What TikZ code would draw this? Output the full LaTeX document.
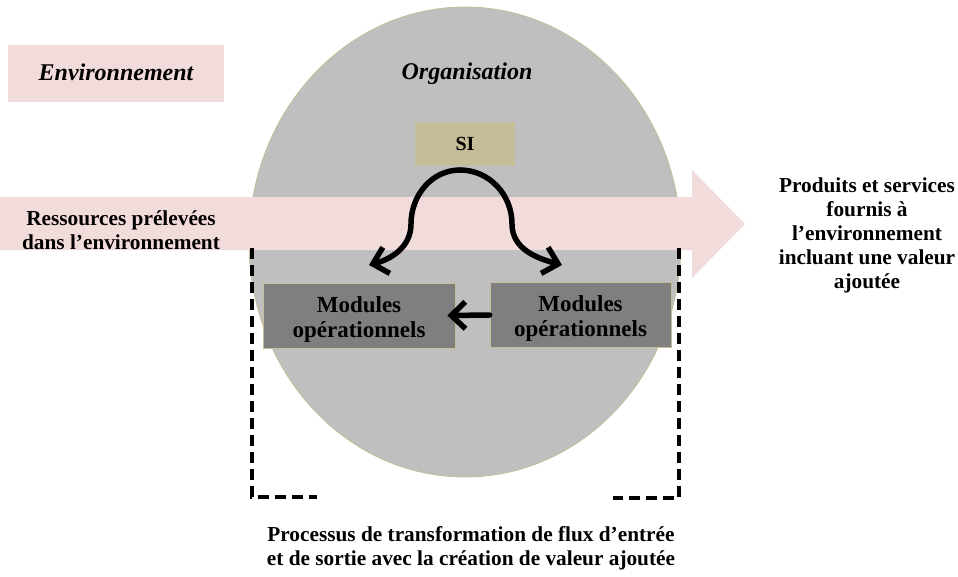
\documentclass[tikz,border=0pt]{standalone}
\usepackage{fontspec}
\setmainfont{Liberation Serif}
\usepackage{xcolor}
\usetikzlibrary{arrows.meta}

\definecolor{pinkflow}{HTML}{F2DCDB}
\definecolor{orggray}{HTML}{BFBFBF}
\definecolor{tan}{HTML}{C4BD97}
\definecolor{modgray}{HTML}{7F7F7F}

\begin{document}
\begin{tikzpicture}[x=1pt, y=-1pt,
    lbl/.style={align=center, font=\fontsize{21.3}{24}\selectfont\bfseries},
    ttl/.style={font=\fontsize{24}{28}\selectfont\bfseries\itshape},
    modbox/.style={draw=tan, fill=modgray, line width=0.8pt, align=center,
        minimum height=65pt, inner sep=0pt, font=\fontsize{23}{25}\selectfont\bfseries},
    flow/.style={line width=5.5pt, line cap=round, -{Straight Barb[length=14pt, width=27pt]}},
    bracket/.style={line width=3.6pt, dash pattern=on 11pt off 6pt}]
    \useasboundingbox (0,0) rectangle (958,576);

    % organisation
    \draw[tan, fill=orggray, line width=0.8pt] (465,242) ellipse [x radius=216, y radius=235];

    % flow of the environment
    \fill[pinkflow] (0,197) -- (692,197) -- (692,170) -- (745,224) -- (692,278)
        -- (692,250) -- (0,250) -- cycle;
    \fill[pinkflow] (8,45) rectangle (224,102);

    \node[ttl] at (116,72) (env) {Environnement};
    \node[ttl] at (467,74) (org) {Organisation};

    \node[fill=tan, minimum width=100pt, minimum height=44pt, inner sep=0pt,
        font=\fontsize{20}{24}\selectfont\bfseries] at (465,144) (si) {SI};

    \node[modbox, minimum width=192pt] at (359,315.5) (modL)
        {\raisebox{-4pt}[\height][\depth]{\begin{tabular}{@{}c@{}}Modules\\opérationnels\end{tabular}}};
    \node[modbox, minimum width=181pt] at (580.5,315) (modR)
        {\raisebox{-4pt}[\height][\depth]{\begin{tabular}{@{}c@{}}Modules\\opérationnels\end{tabular}}};

    \node[lbl] at (121,230) (res) {Ressources prélevées\\dans l’environnement};
    \node[lbl] at (867,235) (prod) {Produits et services\\fournis à\\l’environnement\\incluant une valeur\\ajoutée};
    \node[lbl] at (471,548) (proc) {Processus de transformation de flux d’entrée\\et de sortie avec la création de valeur ajoutée};

    % SI towards the modules
    \coordinate (peak) at (460,170);
    \coordinate (tipL) at (369,265);
    \coordinate (tipR) at (562,265);
    \draw[flow] (peak) to[out=180, in=90] (411,224) to[out=-90, in=15] (tipL);
    \draw[flow] (peak) to[out=0, in=90] (512,224) to[out=-90, in=165] (tipR);
    \draw[flow] (modR.west) -- ([xshift=-8pt]modL.east);

    % process bracket
    \coordinate (bl1) at (252,248);
    \coordinate (bl2) at (252,497);
    \coordinate (bl3) at (317,497);
    \coordinate (br1) at (679,248);
    \coordinate (br2) at (679,498);
    \coordinate (br3) at (613,498);
    \draw[bracket] (bl1) -- (bl2) -- (bl3);
    \draw[bracket] (br1) -- (br2) -- (br3);
\end{tikzpicture}
\end{document}
